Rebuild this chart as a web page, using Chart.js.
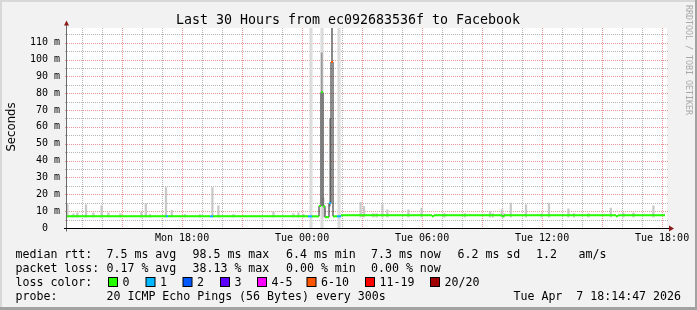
<!DOCTYPE html>
<html><head><meta charset="utf-8">
<script src="https://cdn.jsdelivr.net/npm/chart.js@4.4.1/dist/chart.umd.min.js"></script>
<style>html,body{margin:0;padding:0;background:#f2f2f2;overflow:hidden}#wrap{width:697px;height:310px;position:relative}canvas{display:block}</style>
</head><body><div id="wrap"><canvas id="c" width="697" height="310"></canvas></div>
<script>
// ---------- data ----------
const titleText = 'Last 30 Hours from ec092683536f to Facebook';
const yAxisTitle = 'Seconds';
const sideText = 'RRDTOOL / TOBI OETIKER';
const startClockHour = 12 + 14 / 60 + 47 / 3600;   // Mon 12:14:47
const spanHours = 30;
const tickLabels = ['Mon 18:00', 'Tue 00:00', 'Tue 06:00', 'Tue 12:00', 'Tue 18:00'];
const tickClockHours = [18, 24, 30, 36, 42];
const yMaxMs = 118.7;
const yTickValues = [0, 10, 20, 30, 40, 50, 60, 70, 80, 90, 100, 110];

// median RTT (ms) as runs: start (hours since start), value, lost pings of 20
const runStart  = [0, 4.95, 5.05, 7.15, 7.3, 12.05, 12.25, 12.6, 12.7, 12.8, 12.9, 13.1, 13.2, 13.3, 13.5, 13.7, 18.25, 18.35, 21.75, 21.85, 27.45, 27.55];
const runMedian = [6.9, 6.9, 6.9, 6.9, 6.9, 6.9, 6.9, 13.0, 80.5, 12.8, 6.4, 14.8, 98.5, 6.9, 6.9, 7.5, 7.0, 7.5, 7.0, 7.5, 7.0, 7.5];
const runLoss   = [0, 1, 0, 1, 0, 1, 0, 0, 0, 0, 0, 1, 8, 0, 1, 0, 0, 0, 0, 0, 0, 0];
const runEnd = 29.9;

// smoke (ping spread) per sample: time, low, high (ms)
const smokeTime = [0.02, 0.32, 0.52, 0.95, 1.32, 1.73, 2.07, 2.67, 3.72, 3.94, 4.15, 4.95, 5.24, 5.9, 6.65, 7.27, 7.57, 8.32, 10.32, 11.32, 11.57, 11.82, 12.82,
  14.68, 14.85, 15.32, 15.48, 15.77, 16.02, 17.07, 17.73, 18.87, 19.9, 21.15, 21.29, 21.74, 21.85, 22.19, 22.95, 23.74, 24.1, 25.07, 25.35, 26.07, 27.19, 27.82, 28.32, 29.32];
const smokeLow  = smokeTime.map(() => 6.5);
const smokeHigh = [14.5, 8.3, 9.0, 13.8, 9.0, 13.2, 9.0, 8.5, 9.5, 14.6, 8.0, 24.0, 10.5, 8.0, 8.0, 24.0, 13.2, 8.0, 9.8, 8.5, 9.0, 8.2, 17.8,
  15.2, 12.8, 8.5, 8.5, 13.8, 10.8, 10.8, 11.8, 8.5, 8.5, 9.8, 8.5, 10.8, 8.5, 14.8, 13.8, 8.5, 14.8, 11.4, 8.5, 8.5, 11.8, 9.0, 9.0, 13.2];
// samples whose pings exceed the top of the graph
const bandTime = [12.2, 12.75, 13.6];
// dense smoke around the spikes
const spikeSmokeTime = [12.735, 13.15, 13.25];
const spikeSmokeLow  = [80.5, 13.0, 98.5];
const spikeSmokeHigh = [104.0, 65.0, 118.7];

// loss colours
const lossLabels = ['0', '1', '2', '3', '4-5', '6-10', '11-19', '20/20'];
const lossUpper  = [0, 1, 2, 3, 5, 10, 19, 20];
const lossColors = ['#26ff00', '#00b8ff', '#0059ff', '#5e00ff', '#ff00ff', '#ff5500', '#ff0000', '#a00000'];

// legend text
const legendRows = [
  ['median rtt:', '7.5 ms avg', '98.5 ms max', '6.4 ms min', '7.3 ms now', '6.2 ms sd', '1.2', 'am/s'],
  ['packet loss:', '0.17 % avg', '38.13 % max', '0.00 % min', '0.00 % now'],
  ['loss color:'],
  ['probe:', '20 ICMP Echo Pings (56 Bytes) every 300s']
];
const legendDate = 'Tue Apr  7 18:14:47 2026';

// ---------- layout constants ----------
const W = 697, H = 310;
const MONO = '"DejaVu Sans Mono", monospace';
const legendColX = [[15.5, 106.5, 192.5, 286, 371, 457.5, 536, 578.5], [15.5, 106.5, 192.5, 286, 371], [15.5], [15.5, 106.5]];
const legendBaseY = [257.5, 271.5, 285.5, 299.5];
const lossBoxX = [108, 145.5, 182.5, 220, 257, 306.5, 365, 430];

function lossColorFor(n) {
  for (let i = 0; i < lossUpper.length; i++) if (n <= lossUpper[i]) return lossColors[i];
  return lossColors[lossColors.length - 1];
}

// hour grid ticks (every clock hour inside the window)
const hourTicks = [];
for (let h = Math.ceil(startClockHour); h <= startClockHour + spanHours; h++) hourTicks.push(h - startClockHour);
const yGridTicks = [];
for (let v = 0; v < yMaxMs; v += 5) yGridTicks.push(v);

// ---------- datasets built from the arrays ----------
const medianStep = runStart.map((t, i) => ({ x: t, y: runMedian[i] }));
medianStep.push({ x: runEnd, y: runMedian[runMedian.length - 1] });

const medianColored = [];
const segColors = [];
runStart.forEach((t, i) => {
  const end = i + 1 < runStart.length ? runStart[i + 1] : runEnd;
  const col = lossColorFor(runLoss[i]);
  medianColored.push({ x: t, y: runMedian[i] }); segColors.push(col);
  medianColored.push({ x: end, y: runMedian[i] }); segColors.push(col);
  medianColored.push({ x: end, y: null }); segColors.push(col);
});

const RED_GRID = '#e69494';
const GRAY_GRID = '#b4b4b4';

const chromePlugin = {
  id: 'chrome',
  beforeDraw(chart) {
    const c = chart.ctx, a = chart.chartArea;
    c.save();
    c.fillStyle = '#f2f2f2'; c.fillRect(0, 0, W, H);
    c.fillStyle = '#d8d8d8'; c.fillRect(0, 0, W, 2); c.fillRect(0, 0, 2, H);
    c.fillStyle = '#a2a2a2'; c.fillRect(0, H - 3, W, 3); c.fillRect(W - 2, 0, 2, H);
    c.fillStyle = '#ffffff'; c.fillRect(a.left, a.top, a.right - a.left, a.bottom - a.top);
    c.restore();
  },
  beforeDatasetsDraw(chart) {
    // dotted grid at the scale positions
    const c = chart.ctx, a = chart.chartArea, xs = chart.scales.x, ys = chart.scales.y;
    c.save();
    const drawDotted = (x1, y1, x2, y2, col) => {
      c.fillStyle = col;
      if (x1 === x2) { for (let y = y1; y <= y2; y += 2) c.fillRect(x1, y, 1, 1); }
      else { for (let x = x1; x <= x2; x += 2) c.fillRect(x, y1, 1, 1); }
    };
    hourTicks.forEach(v => {
      const clock = Math.round(v + startClockHour);
      const px = Math.round(xs.getPixelForValue(v));
      drawDotted(px, Math.round(a.top), px, Math.round(a.bottom) - 1, clock % 3 === 0 ? RED_GRID : GRAY_GRID);
    });
    yGridTicks.forEach(v => {
      if (v === 0) return;
      const py = Math.round(ys.getPixelForValue(v));
      drawDotted(Math.round(a.left) - 2, py, Math.round(a.right), py, Math.round(v) % 10 === 0 ? RED_GRID : GRAY_GRID);
    });
    c.restore();
  },
  afterDraw(chart) {
    const c = chart.ctx, a = chart.chartArea;
    const y0 = Math.round(chart.scales.y.getPixelForValue(0)) + 0.5;
    c.save();
    c.lineWidth = 1;
    c.strokeStyle = '#6a6a6a';
    c.beginPath(); c.moveTo(a.left - 0.5, y0 + 3); c.lineTo(a.left - 0.5, a.top - 3); c.stroke();
    c.strokeStyle = '#000000';
    c.beginPath(); c.moveTo(a.left - 3, y0); c.lineTo(a.right + 3, y0); c.stroke();
    c.fillStyle = '#8b1a1a';
    c.beginPath(); c.moveTo(a.left - 3, a.top - 2.5); c.lineTo(a.left + 2, a.top - 2.5); c.lineTo(a.left - 0.5, a.top - 7.5); c.closePath(); c.fill();
    c.beginPath(); c.moveTo(a.right + 2, y0 - 3); c.lineTo(a.right + 2, y0 + 3); c.lineTo(a.right + 7, y0); c.closePath(); c.fill();
    c.fillStyle = '#000';
    c.font = '13.3px ' + MONO; c.textAlign = 'center'; c.textBaseline = 'alphabetic';
    c.fillText(titleText, 348, 24);
    c.save(); c.translate(14.5, 127); c.rotate(-Math.PI / 2);
    c.font = '11.7px "DejaVu Sans", sans-serif'; c.textAlign = 'center'; c.fillText(yAxisTitle, 0, 0);
    c.restore();
    c.save(); c.translate(686, 5); c.rotate(Math.PI / 2);
    c.font = '8.3px ' + MONO; c.fillStyle = '#a8a8a8'; c.textAlign = 'left'; c.fillText(sideText, 0, 0);
    c.restore();
    c.font = '11.6px ' + MONO; c.textAlign = 'left'; c.fillStyle = '#000';
    legendRows.forEach((row, r) => row.forEach((txt, k) => c.fillText(txt, legendColX[r][k], legendBaseY[r])));
    lossLabels.forEach((lab, i) => {
      const bx = lossBoxX[i];
      c.fillStyle = '#000'; c.fillRect(bx, 277, 10, 10);
      c.fillStyle = lossColors[i]; c.fillRect(bx + 1, 278, 8, 8);
      c.fillStyle = '#000'; c.fillText(lab, bx + 14.5, legendBaseY[2]);
    });
    c.textAlign = 'right';
    c.fillText(legendDate, 681, legendBaseY[3]);
    c.restore();
  }
};

new Chart(document.getElementById('c'), {
  type: 'bar',
  data: {
    datasets: [
      { type: 'line', data: medianColored, borderWidth: 2, pointRadius: 0, spanGaps: false, borderCapStyle: 'butt',
        segment: { borderColor: ctx => segColors[ctx.p0DataIndex] }, borderColor: '#26ff00', order: 1 },
      { type: 'line', data: medianStep, stepped: true, borderWidth: 1, borderColor: '#1c1c1c', pointRadius: 0, order: 2 },
      { type: 'bar', data: spikeSmokeTime.map((t, i) => ({ x: t, y: [spikeSmokeLow[i], spikeSmokeHigh[i]] })),
        backgroundColor: ['#9a9a9a', '#a4a4a4', '#808080'], barThickness: 1.2, grouped: false, borderWidth: 0, order: 3 },
      { type: 'bar', data: smokeTime.map((t, i) => ({ x: t, y: [smokeLow[i], smokeHigh[i]] })),
        backgroundColor: '#c8c8c8', barThickness: 1.6, grouped: false, borderWidth: 0, order: 4 },
      { type: 'bar', data: bandTime.map(t => ({ x: t, y: [0, yMaxMs] })),
        backgroundColor: '#dcdcdc', barThickness: 2.5, grouped: false, borderWidth: 0, order: 5 }
    ]
  },
  options: {
    responsive: false, animation: false, devicePixelRatio: 1,
    layout: { padding: { left: 0, right: 30, top: 28, bottom: 52 } },
    plugins: { legend: { display: false }, tooltip: { enabled: false }, title: { display: false } },
    scales: {
      x: {
        type: 'linear', min: 0, max: spanHours, offset: false,
        afterBuildTicks: s => { s.ticks = hourTicks.map(v => ({ value: v })); },
        afterFit: s => { s.height = 30; },
        grid: { display: false, offset: false, drawTicks: false },
        border: { display: false },
        ticks: {
          autoSkip: false, maxRotation: 0, minRotation: 0, padding: 4, color: '#000',
          font: { family: 'DejaVu Sans Mono', size: 10 },
          callback: v => {
            const idx = tickClockHours.indexOf(Math.round(v + startClockHour));
            return idx >= 0 ? tickLabels[idx] : '';
          }
        }
      },
      y: {
        type: 'linear', min: 0, max: yMaxMs,
        afterBuildTicks: s => { s.ticks = yGridTicks.map(v => ({ value: v })); },
        afterFit: s => { s.width = 67; },
        grid: { display: false, drawTicks: false },
        border: { display: false },
        ticks: {
          autoSkip: false, padding: 7, color: '#000',
          font: { family: 'DejaVu Sans Mono', size: 10 },
          callback: v => {
            const r = Math.round(v);
            if (!yTickValues.includes(r)) return '';
            return r === 0 ? '0  ' : r + ' m';
          }
        }
      }
    }
  },
  plugins: [chromePlugin]
});
</script>
</body></html>
